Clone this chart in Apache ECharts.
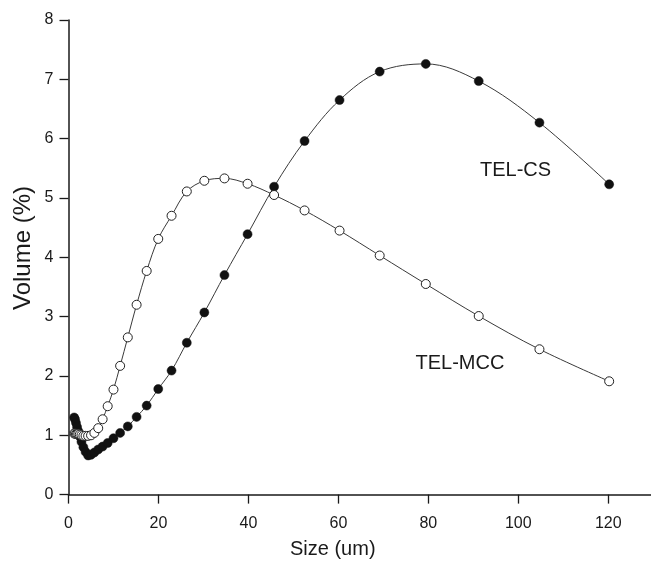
<!DOCTYPE html>
<html>
<head>
<meta charset="utf-8">
<script src="https://cdn.jsdelivr.net/npm/echarts@6/dist/echarts.min.js"></script>
<style>
  html, body { margin: 0; padding: 0; background: #fff; }
  #chart { width: 651px; height: 562px; }
</style>
</head>
<body>
<div id="chart"></div>
<script>
// Particle size bins (um), shared by both samples
var sizes = [1.259, 1.445, 1.660, 1.905, 2.188, 2.512, 2.884, 3.311, 3.802, 4.365,
             5.012, 5.754, 6.607, 7.586, 8.710, 10.00, 11.48, 13.18, 15.14, 17.38,
             19.95, 22.91, 26.30, 30.20, 34.67, 39.81, 45.71, 52.48, 60.26, 69.18,
             79.43, 91.20, 104.7, 120.2];

// Volume (%) per bin
var telCS  = [1.30, 1.27, 1.21, 1.14, 1.07, 0.98, 0.89, 0.80, 0.72, 0.66,
              0.67, 0.71, 0.76, 0.81, 0.87, 0.95, 1.04, 1.15, 1.31, 1.50,
              1.78, 2.09, 2.56, 3.07, 3.70, 4.39, 5.19, 5.96, 6.65, 7.13,
              7.26, 6.97, 6.27, 5.23];
var telMCC = [1.03, 1.03, 1.02, 1.02, 1.02, 1.01, 1.00, 0.99, 0.99, 0.99,
              1.00, 1.04, 1.12, 1.27, 1.49, 1.77, 2.17, 2.65, 3.20, 3.77,
              4.31, 4.70, 5.11, 5.29, 5.33, 5.24, 5.05, 4.79, 4.45, 4.03,
              3.55, 3.01, 2.45, 1.91];

var xTicks = [0, 20, 40, 60, 80, 100, 120];
var yTicks = [0, 1, 2, 3, 4, 5, 6, 7, 8];

function pairs(xs, ys) {
  return xs.map(function (x, i) { return [x, ys[i]]; });
}

var FONT = '"Liberation Sans", Arial, sans-serif';
var INK = '#1a1a1a';

var chart = echarts.init(document.getElementById('chart'), null, { renderer: 'canvas' });

chart.setOption({
  backgroundColor: '#fff',
  animation: false,
  grid: { left: 68.5, right: 0, top: 20, bottom: 67.4 },
  xAxis: {
    type: 'value',
    min: 0,
    max: 129.5,
    interval: 20,
    axisLine: { show: true, lineStyle: { color: INK, width: 1.5 } },
    axisTick: { show: true, length: 9, inside: false, customValues: xTicks,
                lineStyle: { color: INK, width: 1.3 } },
    axisLabel: { margin: 21, fontSize: 16, color: INK, fontFamily: FONT,
                 customValues: xTicks },
    splitLine: { show: false }
  },
  yAxis: {
    type: 'value',
    min: 0,
    max: 8,
    interval: 1,
    axisLine: { show: true, onZero: false, lineStyle: { color: INK, width: 1.5 } },
    axisTick: { show: true, length: 9, inside: false, customValues: yTicks,
                lineStyle: { color: INK, width: 1.3 } },
    axisLabel: { margin: 15, fontSize: 16, color: INK, fontFamily: FONT,
                 customValues: yTicks },
    splitLine: { show: false }
  },
  graphic: [
    { type: 'text', left: 290, top: 539,
      style: { text: 'Size (um)', font: '20px ' + FONT, fill: INK } },
    { type: 'text', x: 23, y: 248, rotation: Math.PI / 2,
      style: { text: 'Volume (%)', font: '24px ' + FONT, fill: INK,
               align: 'center', verticalAlign: 'middle' } },
    { type: 'text', x: 480, y: 170,
      style: { text: 'TEL-CS', font: '20px ' + FONT, fill: INK, verticalAlign: 'middle' } },
    { type: 'text', x: 415.5, y: 363,
      style: { text: 'TEL-MCC', font: '20px ' + FONT, fill: INK, verticalAlign: 'middle' } }
  ],
  series: [
    {
      name: 'TEL-CS',
      type: 'line',
      data: pairs(sizes, telCS),
      smooth: 0.35,
      symbol: 'circle',
      symbolSize: 9,
      lineStyle: { color: '#3a3a3a', width: 1 },
      itemStyle: { color: '#111', borderColor: '#111', borderWidth: 0.5 },
      z: 2
    },
    {
      name: 'TEL-MCC',
      type: 'line',
      data: pairs(sizes, telMCC),
      smooth: 0.35,
      symbol: 'circle',
      symbolSize: 9,
      showAllSymbol: true,
      lineStyle: { color: '#3a3a3a', width: 1 },
      itemStyle: { color: '#fff', borderColor: '#222', borderWidth: 1 },
      z: 3
    }
  ]
});
</script>
</body>
</html>
